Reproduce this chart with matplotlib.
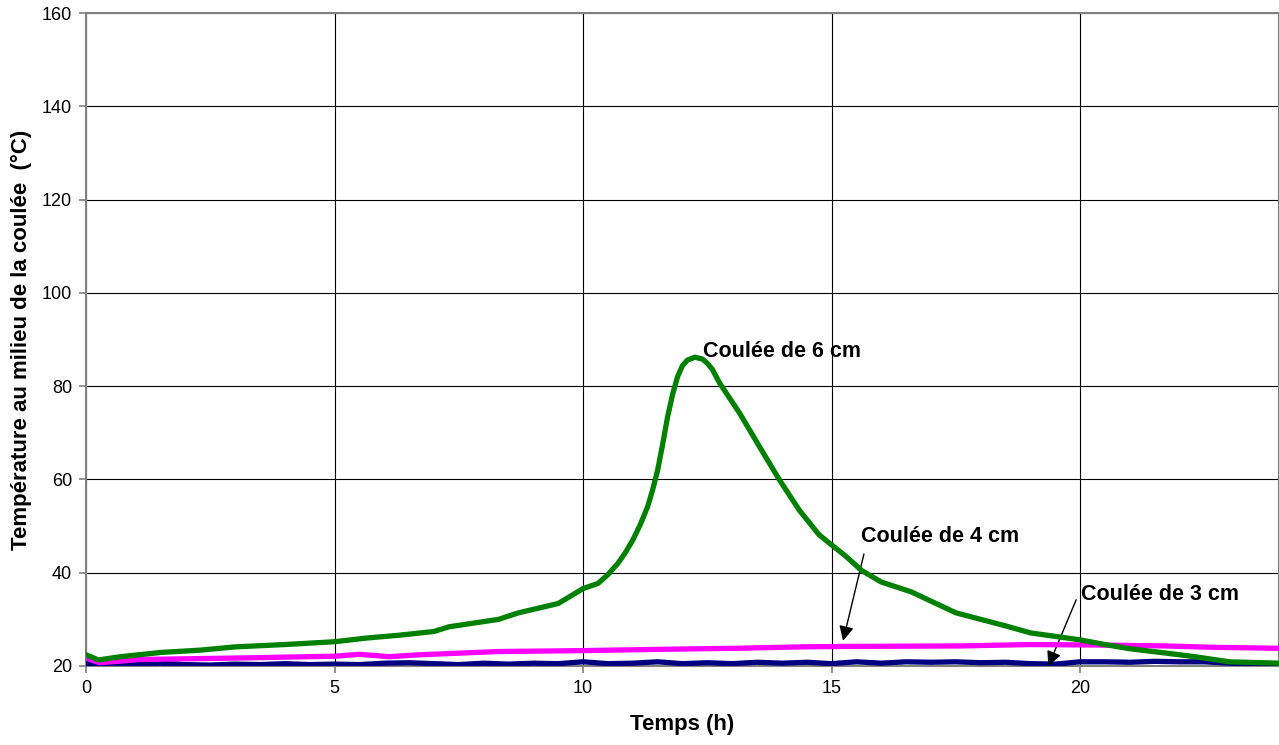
import matplotlib.pyplot as plt

plt.rcParams['font.family'] = ['Liberation Sans', 'DejaVu Sans']

# Coulée de 6 cm
t6 = [0, 0.25, 0.7, 1.5, 2.3, 3.0, 4.0, 5.0, 5.65, 6.3, 7.0, 7.3, 8.3, 8.7, 9.5,
      10.0, 10.3, 10.5, 10.7, 10.85, 11.0, 11.15, 11.3, 11.4, 11.5, 11.6, 11.7,
      11.8, 11.9, 12.0, 12.1, 12.25, 12.4, 12.5, 12.6, 12.75, 12.95, 13.15,
      13.55, 13.95, 14.35, 14.75, 15.3, 15.6, 16.0, 16.6, 17.5, 18.0, 18.5,
      19.0, 20.0, 20.5, 21.0, 21.7, 22.3, 23.0, 24.0]
v6 = [22.4, 21.3, 22.0, 22.9, 23.4, 24.1, 24.6, 25.2, 26.0, 26.6, 27.4, 28.4,
      30.0, 31.4, 33.4, 36.6, 37.7, 39.6, 42.0, 44.3, 47.0, 50.3, 54.2, 57.8,
      62.0, 67.5, 73.4, 78.2, 82.0, 84.4, 85.6, 86.2, 85.8, 84.9, 83.6, 80.6,
      77.4, 74.2, 67.0, 59.9, 53.4, 48.1, 43.4, 40.5, 38.0, 35.9, 31.4, 30.0,
      28.6, 27.1, 25.6, 24.6, 23.7, 22.8, 22.0, 20.9, 20.6]

# Coulée de 4 cm
t4 = [0, 0.27, 1.1, 3.0, 5.0, 5.5, 6.1, 6.7, 8.3, 10.0, 11.7, 13.1, 14.4, 15.3,
      17.6, 19.0, 20.3, 21.7, 22.7, 24.0]
v4 = [21.7, 20.7, 21.4, 21.7, 22.1, 22.5, 22.0, 22.4, 23.1, 23.3, 23.6, 23.8,
      24.1, 24.2, 24.3, 24.6, 24.5, 24.3, 24.0, 23.8]

# Coulée de 3 cm
t3 = [0, 0.5, 1, 1.5, 2, 2.5, 3, 3.5, 4, 4.5, 5, 5.5, 6, 6.5, 7, 7.5, 8, 8.5,
      9, 9.5, 10, 10.5, 11, 11.5, 12, 12.5, 13, 13.5, 14, 14.5, 15, 15.5, 16,
      16.5, 17, 17.5, 18, 18.5, 19, 19.5, 20, 20.5, 21, 21.5, 22, 22.5, 23,
      23.5, 24]
v3 = [20.5, 20.2, 20.4, 20.6, 20.3, 20.2, 20.4, 20.3, 20.5, 20.3,
      20.4, 20.3, 20.6, 20.7, 20.5, 20.3, 20.6, 20.4, 20.6, 20.5,
      20.9, 20.5, 20.6, 20.9, 20.5, 20.7, 20.5, 20.8, 20.6, 20.8,
      20.5, 20.9, 20.6, 20.9, 20.8, 20.9, 20.7, 20.8, 20.5, 20.4,
      20.9, 20.9, 20.8, 21.0, 20.9, 20.9, 20.6, 20.4, 20.2]

fig = plt.figure(figsize=(12.79, 7.45), dpi=100)
ax = fig.add_axes([86 / 1279, 1 - 666 / 745, 1 - 86 / 1279, (666 - 13) / 745])

ax.plot(t3, v3, color='#000080', lw=3.8, zorder=3, solid_joinstyle='round')
ax.plot(t4, v4, color='#FF00FF', lw=3.8, zorder=4, solid_joinstyle='round')
ax.plot(t6, v6, color='#008000', lw=3.8, zorder=5, solid_joinstyle='round')

ax.set_xlim(0, 24)
ax.set_ylim(20, 160)
ax.set_xticks([0, 5, 10, 15, 20])
ax.set_yticks(range(20, 161, 20))
ax.grid(True, color='black', lw=0.8)
ax.set_axisbelow(True)
for s in ax.spines.values():
    s.set_color('#808080')
    s.set_linewidth(1.5)
ax.tick_params(labelsize=13, length=5, color='#808080', width=1.2, pad=5)

ax.set_xlabel('Temps (h)', fontsize=16, fontweight='bold', labelpad=12)
ax.set_ylabel('Température au milieu de la coulée  (°C)', fontsize=16,
              fontweight='bold', labelpad=7)

arrow = dict(arrowstyle='-|>', color='black', lw=1, shrinkA=0, shrinkB=0,
             mutation_scale=22)
ax.text(12.42, 87.5, 'Coulée de 6 cm', fontsize=15.5, fontweight='bold', va='center')
ax.text(15.6, 47.7, 'Coulée de 4 cm', fontsize=15.5, fontweight='bold', va='center')
ax.annotate('', xy=(15.23, 25.4), xytext=(15.65, 44.0), arrowprops=arrow)
ax.text(20.02, 35.4, 'Coulée de 3 cm', fontsize=15.5, fontweight='bold', va='center')
ax.annotate('', xy=(19.36, 20.0), xytext=(19.92, 34.2), arrowprops=arrow)

fig.savefig('out.png', dpi=100)
